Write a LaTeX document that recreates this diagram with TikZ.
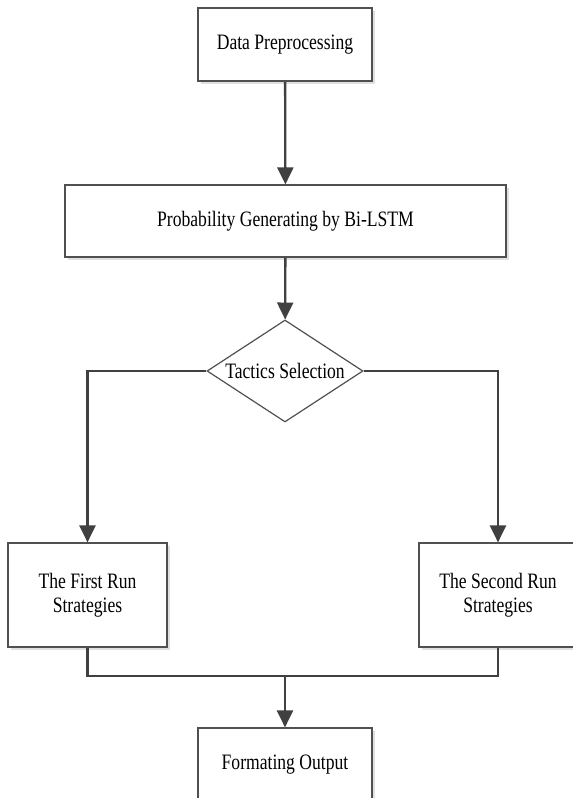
\documentclass[tikz,border=0pt]{standalone}
\usepackage{fontspec}
\setmainfont{Liberation Serif}[FakeStretch=0.8]
\usetikzlibrary{arrows.meta,shapes.geometric,shadows}
\definecolor{edge}{HTML}{505050}
\definecolor{conn}{HTML}{404040}
\tikzset{
  box/.style={draw=edge, line width=1.2pt, fill=white, rectangle, inner sep=0pt, align=center,
    font=\fontsize{22}{24.5}\selectfont,
    drop shadow={shadow xshift=3pt, shadow yshift=-3pt, fill=black!12, opacity=1}},
  dia/.style={draw=edge, line width=1.2pt, fill=white, diamond, inner sep=0pt,
    minimum width=156pt, minimum height=102pt},
  arr/.style={draw=conn, line width=2.3pt, -{Triangle[length=17pt,width=16pt]}},
  conline/.style={draw=conn, line width=2.3pt}
}
\begin{document}
\begin{tikzpicture}[x=1pt,y=-1pt]
\useasboundingbox (0,0) rectangle (573,798);
\fill[white] (0,0) rectangle (573,798);
\node[box, minimum width=174pt, minimum height=73pt] (dp) at (285,44.5) {Data Preprocessing};
\node[box, minimum width=441pt, minimum height=72pt] (prob) at (285.5,221) {Probability Generating by Bi-LSTM};
\node[dia, label={[font=\fontsize{22}{24.5}\selectfont]center:Tactics Selection}] (tac) at (285,371) {};
\node[box, minimum width=159pt, minimum height=104pt] (first) at (87.5,595) {The First Run\\Strategies};
\node[box, minimum width=158pt, minimum height=104pt] (second) at (498,595) {The Second Run\\Strategies};
\node[box, minimum width=174pt, minimum height=74pt] (fmt) at (285,765) {Formating Output};
\coordinate (join) at (285,676);
\draw[arr] (dp) -- (prob);
\draw[arr] (prob) -- (tac);
\draw[arr] (tac.west) -| (first.north);
\draw[arr] (tac.east) -| (second.north);
\draw[conline] (first.south) |- (join) -| (second.south);
\draw[arr] (join) -- (fmt);
\end{tikzpicture}
\end{document}
